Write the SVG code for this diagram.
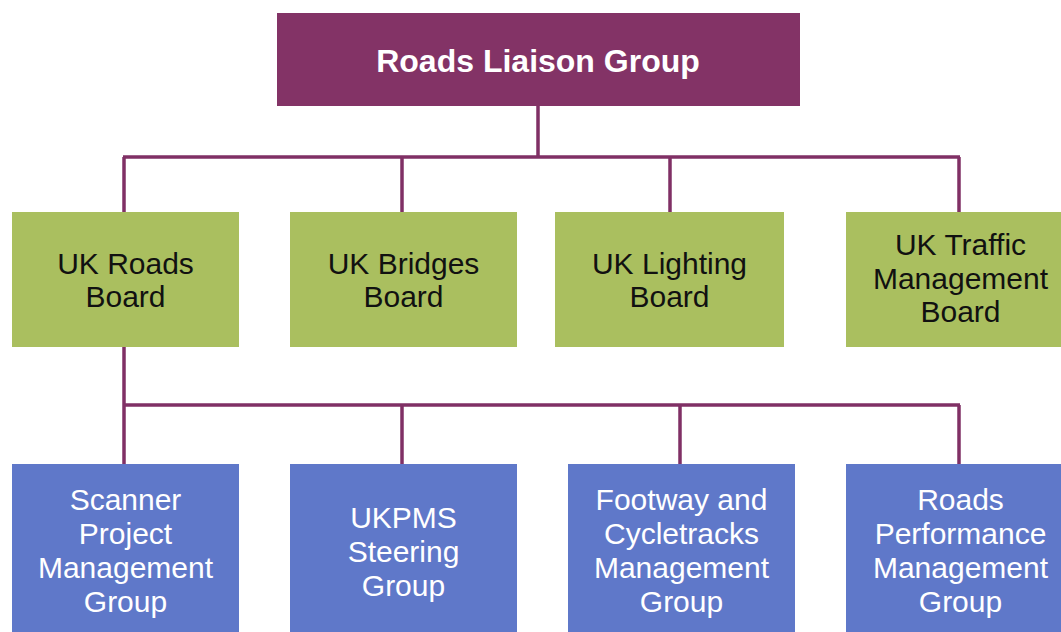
<svg xmlns="http://www.w3.org/2000/svg" width="1061" height="632" viewBox="0 0 1061 632">
<style>
.top{fill:#833366}
.board{fill:#aabf5f}
.grp{fill:#5f78c9}
.conn{fill:none;stroke:#803065;stroke-width:3.5}
text{font-family:"Liberation Sans",Arial,sans-serif;text-anchor:middle}
.tt{fill:#ffffff;font-size:32px;font-weight:bold}
.bt{fill:#111111;font-size:30px}
.gt{fill:#ffffff;font-size:30px}
</style>
<rect width="1061" height="632" fill="#ffffff"/>
<g id="connectors">
<path class="conn" d="M538 106V157M123 157H960M124 157V212M402 157V212M670 157V212M959 157V212"/>
<path class="conn" d="M124 346V405M124 405H960M124 405V464M402 405V464M680 405V464M959 405V464"/>
</g>
<g id="roads-liaison-group">
<rect class="top" x="277" y="13" width="523" height="93"/>
<text class="tt" x="538" y="72">Roads Liaison Group</text>
</g>
<g id="uk-roads-board">
<rect class="board" x="12" y="212" width="227" height="135"/>
<text class="bt" x="125.5" y="274">UK Roads</text>
<text class="bt" x="125.5" y="307">Board</text>
</g>
<g id="uk-bridges-board">
<rect class="board" x="290" y="212" width="227" height="135"/>
<text class="bt" x="403.5" y="274">UK Bridges</text>
<text class="bt" x="403.5" y="307">Board</text>
</g>
<g id="uk-lighting-board">
<rect class="board" x="555" y="212" width="229" height="135"/>
<text class="bt" x="669.5" y="274">UK Lighting</text>
<text class="bt" x="669.5" y="307">Board</text>
</g>
<g id="uk-traffic-management-board">
<rect class="board" x="846" y="212" width="229" height="135"/>
<text class="bt" x="960.5" y="255">UK Traffic</text>
<text class="bt" x="960.5" y="289">Management</text>
<text class="bt" x="960.5" y="322">Board</text>
</g>
<g id="scanner-project-management-group">
<rect class="grp" x="12" y="464" width="227" height="180"/>
<text class="gt" x="125.5" y="510">Scanner</text>
<text class="gt" x="125.5" y="544">Project</text>
<text class="gt" x="125.5" y="578">Management</text>
<text class="gt" x="125.5" y="612">Group</text>
</g>
<g id="ukpms-steering-group">
<rect class="grp" x="290" y="464" width="227" height="180"/>
<text class="gt" x="403.5" y="528">UKPMS</text>
<text class="gt" x="403.5" y="562">Steering</text>
<text class="gt" x="403.5" y="596">Group</text>
</g>
<g id="footway-and-cycletracks-management-group">
<rect class="grp" x="568" y="464" width="227" height="180"/>
<text class="gt" x="681.5" y="510">Footway and</text>
<text class="gt" x="681.5" y="544">Cycletracks</text>
<text class="gt" x="681.5" y="578">Management</text>
<text class="gt" x="681.5" y="612">Group</text>
</g>
<g id="roads-performance-management-group">
<rect class="grp" x="846" y="464" width="229" height="180"/>
<text class="gt" x="960.5" y="510">Roads</text>
<text class="gt" x="960.5" y="544">Performance</text>
<text class="gt" x="960.5" y="578">Management</text>
<text class="gt" x="960.5" y="612">Group</text>
</g>
</svg>
